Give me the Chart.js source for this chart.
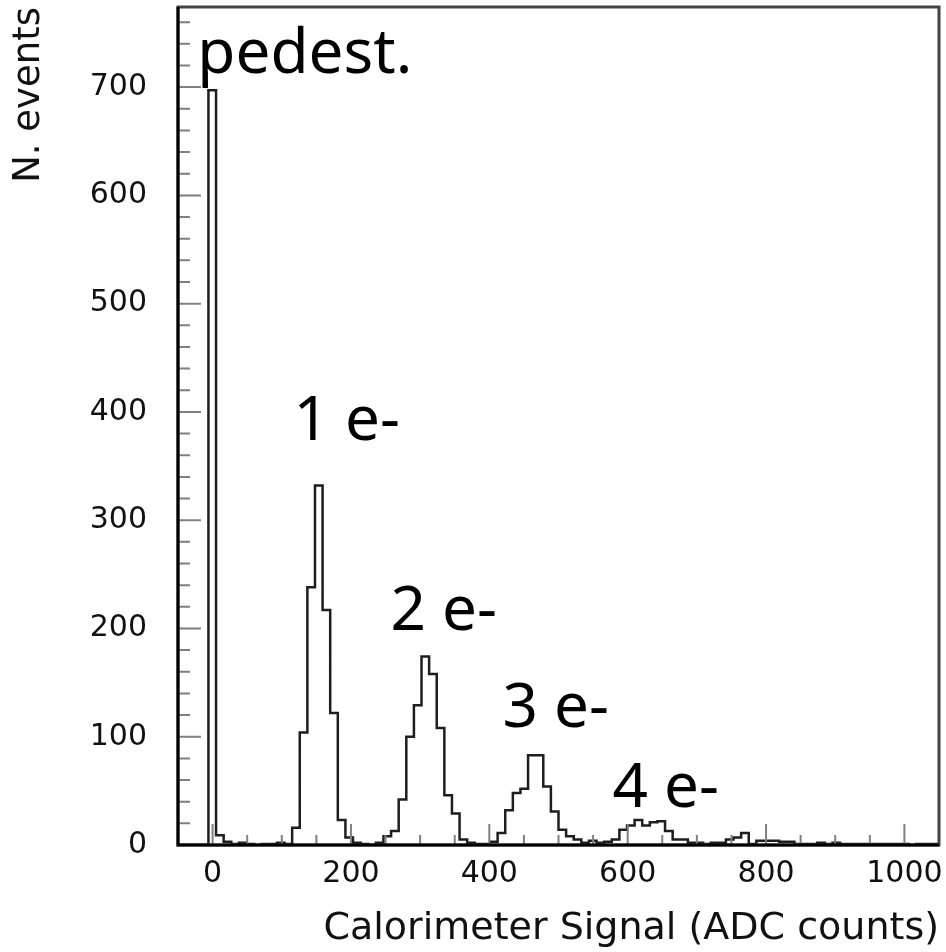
<!DOCTYPE html>
<html>
<head>
<meta charset="utf-8">
<script src="https://cdn.jsdelivr.net/npm/chart.js@4.4.0/dist/chart.umd.min.js"></script>
<style>
  html, body { margin: 0; padding: 0; background: #fff; }
  #wrap { width: 946px; height: 952px; }
</style>
</head>
<body>
<div id="wrap"><canvas id="adcChart"></canvas></div>
<script>
// 100 bins of 11 ADC counts, first bin starts at -50
var binStart = -50;
var binWidth = 11;
var counts = [
  0, 0, 0, 0, 697, 9, 3, 1, 2, 1,
  0, 1, 1, 2, 1, 16, 104, 238, 332, 217,
  122, 23, 7, 2, 1, 0, 2, 8, 13, 42,
  100, 129, 174, 158, 108, 46, 29, 5, 2, 1,
  1, 3, 11, 32, 48, 52, 83, 83, 54, 31,
  14, 8, 5, 2, 4, 2, 3, 5, 14, 18,
  23, 18, 21, 22, 13, 5, 5, 2, 2, 1,
  2, 2, 5, 7, 11, 1, 4, 4, 4, 3,
  3, 1, 1, 1, 2, 1, 2, 1, 1, 1,
  1, 1, 1, 1, 1, 1, 0, 1, 1, 1
];
var xTicks = [0, 200, 400, 600, 800, 1000];
var yTicks = [0, 100, 200, 300, 400, 500, 600, 700];

// peak labels, anchored in data units (left / baseline)
var peakLabels = ['pedest.', '1 e-', '2 e-', '3 e-', '4 e-'];
var peakLabelX = [-22, 117, 257, 419, 578];
var peakLabelY = [713, 374, 199, 109, 35];

var histPoints = counts.map(function (c, i) {
  return { x: binStart + i * binWidth, y: c };
});
histPoints.push({ x: binStart + counts.length * binWidth, y: counts[counts.length - 1] });

// ROOT-style frame: ticks pointing inwards, box around the plot, text labels
var rootFrame = {
  id: 'rootFrame',
  afterDraw: function (chart) {
    var ctx = chart.ctx, a = chart.chartArea;
    var xs = chart.scales.x, ys = chart.scales.y;
    ctx.save();
    ctx.strokeStyle = '#808080';
    ctx.lineWidth = 2;
    ctx.beginPath();
    for (var v = 20; v < ys.max; v += 20) {
      var py = ys.getPixelForValue(v);
      var len = v % 100 === 0 ? 23 : 12;
      ctx.moveTo(a.left, py);
      ctx.lineTo(a.left + len, py);
    }
    for (var u = xs.min + 50; u < xs.max; u += 50) {
      var px = xs.getPixelForValue(u);
      var l = u % 200 === 0 ? 21 : 10;
      ctx.moveTo(px, a.bottom);
      ctx.lineTo(px, a.bottom - l);
    }
    ctx.stroke();

    ctx.strokeStyle = '#444';
    ctx.lineWidth = 3;
    ctx.strokeRect(a.left, a.top, a.right - a.left, a.bottom - a.top);
    ctx.strokeStyle = '#000';
    ctx.beginPath();
    ctx.moveTo(a.left, a.top);
    ctx.lineTo(a.left, a.bottom);
    ctx.lineTo(a.right, a.bottom);
    ctx.stroke();

    ctx.fillStyle = '#000';
    ctx.font = '62px "Comic Sans MS", "Noto Sans", sans-serif';
    ctx.textAlign = 'left';
    ctx.textBaseline = 'alphabetic';
    peakLabels.forEach(function (t, i) {
      ctx.fillText(t, xs.getPixelForValue(peakLabelX[i]), ys.getPixelForValue(peakLabelY[i]));
    });
    ctx.restore();
  }
};

new Chart(document.getElementById('adcChart'), {
  type: 'line',
  data: {
    datasets: [{
      data: histPoints,
      stepped: 'before',
      borderColor: '#1e1e1e',
      borderWidth: 2.5,
      pointRadius: 0,
      fill: false
    }]
  },
  options: {
    responsive: true,
    maintainAspectRatio: false,
    animation: false,
    layout: { padding: { top: 7, right: 7, left: 0, bottom: 0 } },
    plugins: {
      legend: { display: false },
      tooltip: { enabled: false }
    },
    scales: {
      x: {
        type: 'linear',
        min: -50,
        max: 1050,
        grid: { display: false, drawTicks: false },
        border: { display: false },
        afterBuildTicks: function (s) {
          s.ticks = xTicks.map(function (v) { return { value: v }; });
        },
        afterFit: function (s) {
          s.height = 107;
          s.paddingLeft = 0;
          s.paddingRight = 0;
        },
        ticks: {
          font: { family: 'DejaVu Sans', size: 30 },
          color: '#111',
          padding: 11,
          maxRotation: 0,
          autoSkip: false,
          callback: function (v) { return String(v); }
        },
        title: {
          display: true,
          text: 'Calorimeter Signal (ADC counts)',
          align: 'end',
          color: '#111',
          font: { family: 'DejaVu Sans', size: 38 },
          padding: { top: 0, bottom: 0 }
        }
      },
      y: {
        min: 0,
        max: 774,
        grid: { display: false, drawTicks: false },
        border: { display: false },
        afterBuildTicks: function (s) {
          s.ticks = yTicks.map(function (v) { return { value: v }; });
        },
        afterFit: function (s) {
          s.width = 178;
          s.paddingTop = 0;
          s.paddingBottom = 0;
        },
        ticks: {
          font: { family: 'DejaVu Sans', size: 30 },
          color: '#111',
          padding: 31,
          callback: function (v) { return String(v); }
        },
        title: {
          display: true,
          text: 'N. events',
          align: 'end',
          color: '#111',
          font: { family: 'DejaVu Sans', size: 37 },
          padding: { top: 7, bottom: 0 }
        }
      }
    }
  },
  plugins: [rootFrame]
});
</script>
</body>
</html>
